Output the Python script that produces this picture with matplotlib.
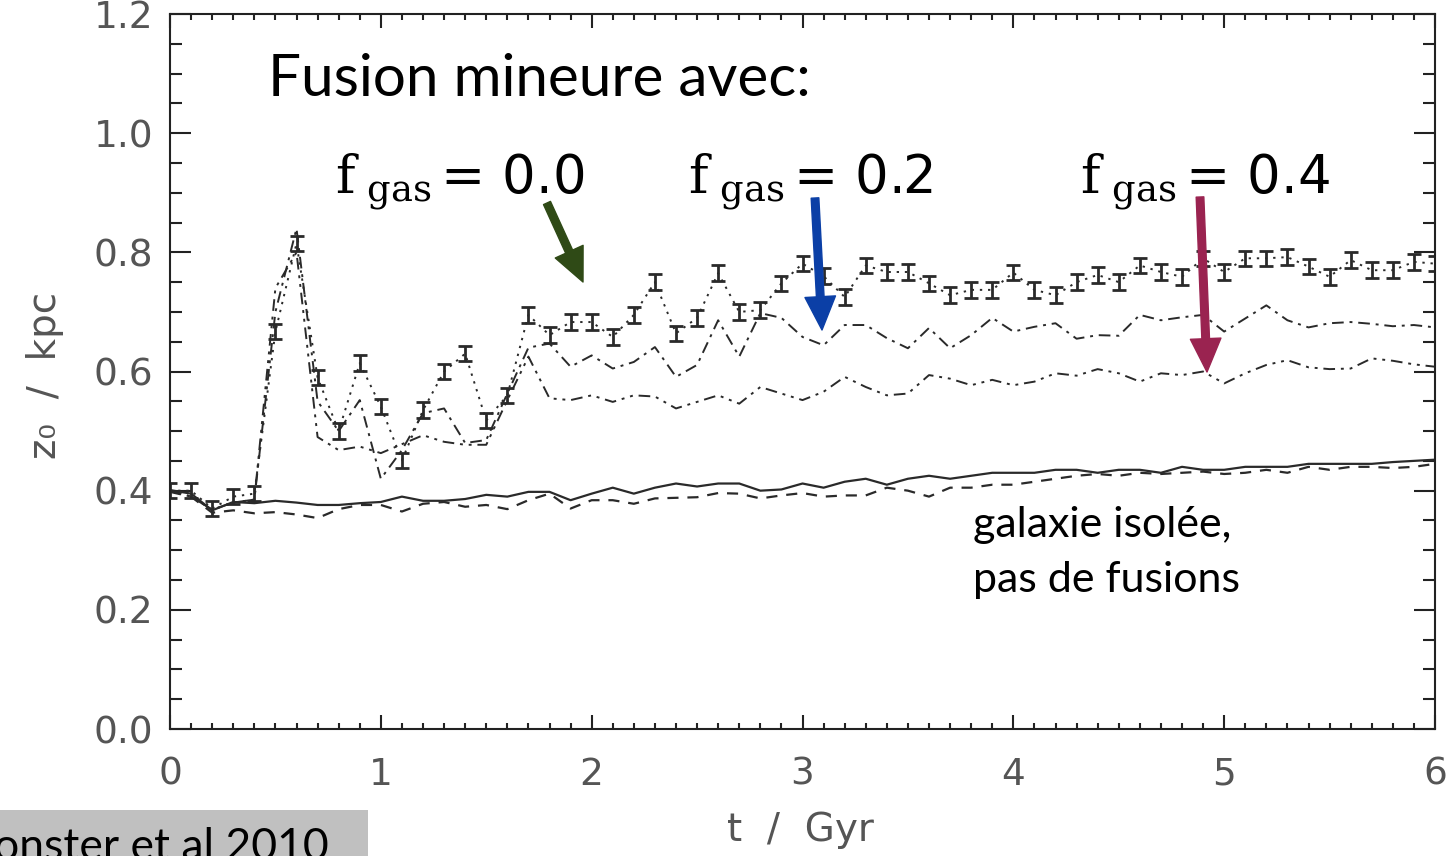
import numpy as np
import matplotlib
matplotlib.use("Agg")
import matplotlib.pyplot as plt
from matplotlib.ticker import MultipleLocator
from matplotlib.patches import Rectangle

plt.rcParams["mathtext.fontset"] = "dejavuserif"

# time axis, one sample every 0.1 Gyr
t = np.linspace(0, 6, 61)

# isolated galaxy (solid and dashed runs)
iso_solid = [0.401, 0.395, 0.367, 0.381, 0.379, 0.383, 0.380, 0.376, 0.376, 0.379,
             0.381, 0.390, 0.383, 0.383, 0.386, 0.393, 0.390, 0.398, 0.398, 0.384,
             0.395, 0.405, 0.395, 0.405, 0.412, 0.407, 0.412, 0.412, 0.400, 0.402,
             0.412, 0.405, 0.415, 0.420, 0.410, 0.420, 0.425, 0.420, 0.425, 0.430,
             0.430, 0.430, 0.435, 0.435, 0.430, 0.435, 0.435, 0.430, 0.440, 0.435,
             0.435, 0.440, 0.440, 0.440, 0.445, 0.445, 0.445, 0.445, 0.448, 0.450, 0.452]
iso_dashed = [0.398, 0.390, 0.363, 0.367, 0.362, 0.364, 0.360, 0.354, 0.369, 0.376,
              0.376, 0.365, 0.378, 0.381, 0.373, 0.376, 0.369, 0.384, 0.395, 0.370,
              0.384, 0.384, 0.378, 0.387, 0.388, 0.389, 0.396, 0.395, 0.387, 0.392,
              0.396, 0.390, 0.392, 0.392, 0.405, 0.400, 0.390, 0.405, 0.405, 0.410,
              0.410, 0.415, 0.420, 0.425, 0.428, 0.425, 0.430, 0.428, 0.430, 0.432,
              0.428, 0.430, 0.435, 0.430, 0.440, 0.435, 0.440, 0.440, 0.438, 0.440, 0.445]

# minor mergers
fgas00 = [0.400, 0.400, 0.370, 0.390, 0.395, 0.667, 0.815, 0.590, 0.500, 0.614,
          0.541, 0.451, 0.535, 0.600, 0.630, 0.518, 0.560, 0.695, 0.661, 0.683,
          0.683, 0.658, 0.695, 0.750, 0.664, 0.690, 0.765, 0.700, 0.703, 0.748,
          0.781, 0.760, 0.725, 0.778, 0.767, 0.767, 0.748, 0.728, 0.737, 0.737,
          0.766, 0.737, 0.728, 0.750, 0.762, 0.750, 0.778, 0.767, 0.759, 0.790,
          0.767, 0.790, 0.790, 0.792, 0.776, 0.759, 0.787, 0.770, 0.770, 0.784, 0.781]
fgas02 = [0.400, 0.390, 0.368, 0.380, 0.385, 0.700, 0.840, 0.550, 0.500, 0.552,
          0.420, 0.468, 0.530, 0.538, 0.480, 0.485, 0.563, 0.640, 0.647, 0.608,
          0.627, 0.605, 0.616, 0.641, 0.591, 0.611, 0.686, 0.625, 0.698, 0.690,
          0.658, 0.644, 0.678, 0.678, 0.656, 0.639, 0.673, 0.639, 0.661, 0.690,
          0.667, 0.675, 0.681, 0.655, 0.661, 0.660, 0.695, 0.686, 0.691, 0.695,
          0.667, 0.689, 0.711, 0.686, 0.674, 0.681, 0.683, 0.680, 0.676, 0.678, 0.674]
fgas04 = [0.400, 0.390, 0.368, 0.380, 0.385, 0.740, 0.800, 0.490, 0.468, 0.474,
          0.463, 0.478, 0.493, 0.482, 0.477, 0.477, 0.552, 0.625, 0.555, 0.552,
          0.560, 0.549, 0.560, 0.558, 0.538, 0.549, 0.560, 0.546, 0.574, 0.563,
          0.552, 0.566, 0.591, 0.574, 0.560, 0.563, 0.594, 0.588, 0.577, 0.586,
          0.577, 0.583, 0.597, 0.593, 0.604, 0.597, 0.583, 0.597, 0.594, 0.600,
          0.580, 0.597, 0.611, 0.619, 0.607, 0.604, 0.605, 0.622, 0.618, 0.612, 0.608]
err00 = 0.013

W, H = 1446, 856
fig = plt.figure(figsize=(W / 100, H / 100), dpi=100)
ax = fig.add_axes([170 / W, (H - 729) / H, (1435 - 170) / W, (729 - 14) / H])

ink = "#2a2a2a"
ax.plot(t, iso_solid, "-", color=ink, lw=1.6)
ax.plot(t, iso_dashed, color=ink, lw=1.6, dashes=(5, 4))
ax.plot(t, fgas02, color=ink, lw=1.4, dashes=(6, 3, 1.5, 3))
ax.plot(t, fgas04, color=ink, lw=1.4, dashes=(6, 3, 1.5, 3, 1.5, 3))
ax.plot(t, fgas00, color=ink, lw=1.4, dashes=(1.2, 3))
ax.errorbar(t, fgas00, yerr=err00, fmt="none", ecolor=ink,
            elinewidth=2.0, capsize=5, capthick=2.0)

ax.set_xlim(0, 6)
ax.set_ylim(0, 1.2)
ax.xaxis.set_major_locator(MultipleLocator(1))
ax.xaxis.set_minor_locator(MultipleLocator(0.1))
ax.yaxis.set_major_locator(MultipleLocator(0.2))
ax.yaxis.set_minor_locator(MultipleLocator(0.05))
ax.xaxis.set_major_formatter(plt.FuncFormatter(lambda v, p: f"{v:g}"))
ax.yaxis.set_major_formatter(plt.FuncFormatter(lambda v, p: f"{v:.1f}"))
ax.tick_params(axis="both", which="both", direction="in", top=True, right=True,
               colors="#222", labelcolor="#555", labelsize=27, width=1.5)
ax.tick_params(axis="x", which="major", length=10, pad=20)
ax.tick_params(axis="x", which="minor", length=4.5)
ax.tick_params(axis="y", which="major", length=15, pad=12)
ax.tick_params(axis="y", which="minor", length=8.5)
for s in ax.spines.values():
    s.set_linewidth(1.5)
    s.set_color("#222")

fig.text(800 / W, (H - 830) / H, "t  /  Gyr", ha="center", va="center",
         fontsize=28, color="#555")
fig.text(45 / W, (H - 375) / H, "z\u2080  /  kpc", ha="center", va="center",
         rotation=90, fontsize=28, color="#555")

# annotations
fig.text(268 / W, (H - 80) / H, "Fusion mineure avec:", ha="left", va="center",
         fontsize=42, family=["Lato", "DejaVu Sans"], color="black")
for x0, lab in [(335, "0.0"), (688, "0.2"), (1080, "0.4")]:
    fig.text(x0 / W, (H - 193) / H, r"$\mathrm{f}_{\ \mathrm{gas}}\,$= " + lab,
             ha="left", va="baseline", fontsize=38,
             family=["DejaVu Sans"], color="black")

arrows = [((547, 203), (583, 282), "#2f4a16"),
          ((815, 198), (822, 330), "#0b3fa6"),
          ((1200, 197), (1207, 372), "#9a2350")]
for (x1, y1), (x2, y2), c in arrows:
    ax.annotate("", xy=(x2, H - y2), xycoords="figure pixels",
                xytext=(x1, H - y1), textcoords="figure pixels",
                arrowprops=dict(color=c, width=5.5, headwidth=22,
                                headlength=24, shrink=0))

fig.text(973 / W, (H - 525) / H, "galaxie isolée,", ha="left", va="center",
         fontsize=31, family=["Lato", "DejaVu Sans"])
fig.text(973 / W, (H - 580) / H, "pas de fusions", ha="left", va="center",
         fontsize=31, family=["Lato", "DejaVu Sans"])

fig.patches.append(Rectangle((0, 0), 368 / W, 46 / H, transform=fig.transFigure,
                             facecolor="#c0c0c0", edgecolor="none", zorder=0))
fig.text(-6 / W, -4 / H, "onster et al 2010", ha="left", va="baseline",
         fontsize=32, family=["Lato", "DejaVu Sans"], color="black")

fig.savefig("out.png", dpi=100)
